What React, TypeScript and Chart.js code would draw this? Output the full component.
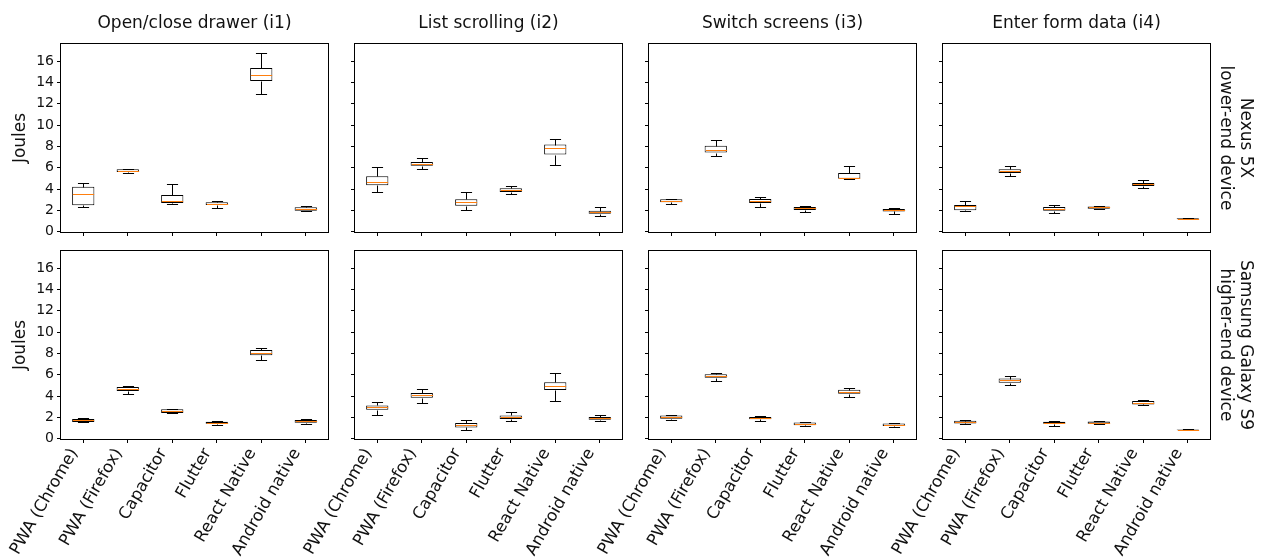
import React, { useEffect, useRef } from 'react';
import { Chart, registerables } from 'chart.js';

Chart.register(...registerables);

const categories = ['PWA (Chrome)', 'PWA (Firefox)', 'Capacitor', 'Flutter', 'React Native', 'Android native'];
const interactions = ['Open/close drawer (i1)', 'List scrolling (i2)', 'Switch screens (i3)', 'Enter form data (i4)'];
const deviceLabels = [
  ['Nexus 5X', 'lower-end device'],
  ['Samsung Galaxy S9', 'higher-end device'],
];
const yTicks = [0, 2, 4, 6, 8, 10, 12, 14, 16];
const yMin = -0.02;
const yMax = 17.6;

// each entry: [lower whisker, Q1, median, Q3, upper whisker] in Joules
const nexusI1 = [
  [2.29, 2.48, 3.51, 4.23, 4.61],
  [5.55, 5.61, 5.74, 5.86, 5.92],
  [2.63, 2.70, 2.92, 3.45, 4.45],
  [2.19, 2.51, 2.63, 2.76, 2.88],
  [12.95, 14.14, 14.73, 15.36, 16.8],
  [1.91, 1.97, 2.13, 2.29, 2.38],
];
const nexusI2 = [
  [3.70, 4.36, 4.67, 5.20, 6.05],
  [5.92, 6.18, 6.36, 6.55, 6.90],
  [2.07, 2.45, 2.79, 3.04, 3.76],
  [3.57, 3.73, 3.92, 4.08, 4.29],
  [6.27, 7.24, 7.81, 8.18, 8.71],
  [1.47, 1.69, 1.85, 1.97, 2.29],
];
const nexusI3 = [
  [2.60, 2.76, 2.88, 3.04, 3.10],
  [7.08, 7.43, 7.68, 8.06, 8.62],
  [2.29, 2.70, 2.92, 3.07, 3.26],
  [1.88, 2.04, 2.19, 2.32, 2.45],
  [4.92, 4.98, 5.08, 5.52, 6.14],
  [1.66, 1.91, 2.04, 2.13, 2.19],
];
const nexusI4 = [
  [1.94, 2.01, 2.41, 2.51, 2.85],
  [5.27, 5.52, 5.71, 5.86, 6.18],
  [1.72, 1.97, 2.16, 2.32, 2.54],
  [2.13, 2.16, 2.29, 2.38, 2.45],
  [4.11, 4.29, 4.45, 4.58, 4.83],
  [1.16, 1.18, 1.22, 1.27, 1.29],
];
const samsungI1 = [
  [1.53, 1.57, 1.72, 1.85, 1.91],
  [4.23, 4.48, 4.66, 4.85, 4.92],
  [2.38, 2.41, 2.60, 2.76, 2.82],
  [1.31, 1.41, 1.50, 1.60, 1.63],
  [7.42, 7.83, 8.08, 8.33, 8.55],
  [1.35, 1.50, 1.63, 1.75, 1.85],
];
const samsungI2 = [
  [2.25, 2.72, 2.94, 3.13, 3.44],
  [3.32, 3.85, 4.07, 4.29, 4.70],
  [0.78, 1.06, 1.28, 1.47, 1.72],
  [1.69, 1.85, 2.07, 2.19, 2.50],
  [3.57, 4.57, 4.98, 5.29, 6.20],
  [1.66, 1.78, 1.91, 2.04, 2.25],
];
const samsungI3 = [
  [1.78, 1.88, 2.07, 2.19, 2.25],
  [5.38, 5.73, 5.92, 6.04, 6.14],
  [1.69, 1.82, 1.94, 2.04, 2.10],
  [1.19, 1.28, 1.41, 1.53, 1.60],
  [3.94, 4.23, 4.41, 4.60, 4.79],
  [1.13, 1.19, 1.31, 1.44, 1.50],
];
const samsungI4 = [
  [1.38, 1.44, 1.57, 1.69, 1.75],
  [5.01, 5.26, 5.48, 5.64, 5.89],
  [1.22, 1.41, 1.50, 1.60, 1.66],
  [1.38, 1.41, 1.50, 1.63, 1.66],
  [3.16, 3.22, 3.38, 3.54, 3.66],
  [0.78, 0.81, 0.85, 0.88, 0.91],
];

const panels = [
  [nexusI1, nexusI2, nexusI3, nexusI4],
  [samsungI1, samsungI2, samsungI3, samsungI4],
];

const FONT = "'DejaVu Sans', sans-serif";
const TEXT = '#111';
const PLOT_LEFT = [61, 355, 649, 943];
const PLOT_W = 267;
const PLOT_TOP = [44, 251];
const PLOT_H = 188;

const framePlugin = {
  id: 'frame',
  afterDraw(chart: any) {
    const { ctx, chartArea: a } = chart;
    ctx.save();
    ctx.strokeStyle = '#000';
    ctx.lineWidth = 1;
    const l = Math.round(a.left) - 0.5;
    const t = Math.round(a.top) - 0.5;
    const r = Math.round(a.right) + 0.5;
    const b = Math.round(a.bottom) + 0.5;
    ctx.strokeRect(l, t, r - l, b - t);
    ctx.restore();
  },
};

function makeBoxPlugin(stats: number[][]) {
  return {
    id: 'boxWhiskers',
    afterDatasetsDraw(chart: any) {
      const { ctx } = chart;
      const ys = chart.scales.y;
      const meta = chart.getDatasetMeta(0);
      ctx.save();
      ctx.lineWidth = 1;
      stats.forEach((s, i) => {
        const el = meta.data[i];
        if (!el) return;
        const xc = Math.round(el.x) + 0.5;
        const hw = el.width / 2;
        const cw = el.width / 4;
        const py = (v: number) => Math.round(ys.getPixelForValue(v)) + 0.5;
        ctx.strokeStyle = '#000';
        ctx.beginPath();
        ctx.moveTo(xc, py(s[3]));
        ctx.lineTo(xc, py(s[4]));
        ctx.moveTo(xc, py(s[1]));
        ctx.lineTo(xc, py(s[0]));
        ctx.moveTo(xc - cw, py(s[4]));
        ctx.lineTo(xc + cw, py(s[4]));
        ctx.moveTo(xc - cw, py(s[0]));
        ctx.lineTo(xc + cw, py(s[0]));
        ctx.stroke();
        ctx.strokeStyle = '#ff7f0e';
        ctx.beginPath();
        ctx.moveTo(xc - hw + 0.5, py(s[2]));
        ctx.lineTo(xc + hw - 0.5, py(s[2]));
        ctx.stroke();
      });
      ctx.restore();
    },
  };
}

function Panel({ row, col, stats }: { row: number; col: number; stats: number[][] }) {
  const ref = useRef<HTMLCanvasElement>(null);
  const L = 61;
  const R = col === 3 ? 56 : 4;
  const T = row === 0 ? 44 : 6;
  const B = row === 0 ? 8 : 120;
  const width = L + PLOT_W + R;
  const height = T + PLOT_H + B;
  const left = PLOT_LEFT[col] - L;
  const top = PLOT_TOP[row] - T;

  useEffect(() => {
    if (!ref.current) return;
    const scales: any = {
      x: {
        type: 'category',
        offset: true,
        grid: {
          display: true,
          offset: false,
          drawOnChartArea: false,
          drawTicks: true,
          tickLength: 4,
          color: '#000',
          tickColor: '#000',
        },
        border: { display: false },
        ticks: {
          display: row === 1,
          autoSkip: false,
          minRotation: 60,
          maxRotation: 60,
          labelOffset: -9,
          padding: 2,
          color: TEXT,
          font: { family: FONT, size: 16.5 },
        },
        afterFit: (s: any) => {
          s.height = B;
          s.paddingLeft = 0;
          s.paddingRight = 0;
        },
      },
      y: {
        type: 'linear',
        min: yMin,
        max: yMax,
        afterBuildTicks: (s: any) => {
          s.ticks = yTicks.map((v) => ({ value: v }));
        },
        grid: {
          display: true,
          drawOnChartArea: false,
          drawTicks: true,
          tickLength: 4,
          color: '#000',
          tickColor: '#000',
        },
        border: { display: false },
        ticks: {
          display: col === 0,
          padding: 3,
          color: TEXT,
          font: { family: FONT, size: 14 },
        },
        title: {
          display: col === 0,
          text: 'Joules',
          color: TEXT,
          font: { family: FONT, size: 17 },
          padding: { top: 10, bottom: 0 },
        },
        afterFit: (s: any) => {
          s.width = L;
          s.paddingTop = 0;
          s.paddingBottom = 0;
        },
      },
    };
    if (col === 3) {
      scales.y2 = {
        type: 'linear',
        position: 'right',
        display: true,
        grid: { display: false, drawTicks: false },
        border: { display: false },
        ticks: { display: false },
        title: {
          display: true,
          text: deviceLabels[row],
          color: TEXT,
          font: { family: FONT, size: 17, lineHeight: 1.15 },
          padding: { top: 11, bottom: 0 },
        },
        afterFit: (s: any) => {
          s.width = R;
          s.paddingTop = 0;
          s.paddingBottom = 0;
        },
      };
    }
    const chart = new Chart(ref.current, {
      type: 'bar',
      data: {
        labels: categories,
        datasets: [
          {
            data: stats.map((s) => [s[1], s[3]]),
            backgroundColor: '#ffffff',
            borderColor: '#000000',
            borderWidth: 1,
            borderSkipped: false,
            barPercentage: 0.5,
            categoryPercentage: 1,
          } as any,
        ],
      },
      options: {
        responsive: false,
        maintainAspectRatio: false,
        animation: false,
        events: [],
        layout: {
          padding: { top: row === 0 ? 0 : T, right: col === 3 ? 0 : R, left: 0, bottom: 0 },
        },
        plugins: {
          legend: { display: false },
          tooltip: { enabled: false },
          title: {
            display: row === 0,
            text: interactions[col],
            fullSize: false,
            color: TEXT,
            font: { family: FONT, size: 17, weight: 'normal', lineHeight: 1.2 },
            padding: { top: 13.3, bottom: 10.3 },
          },
        },
        scales,
      } as any,
      plugins: [makeBoxPlugin(stats), framePlugin],
    });
    return () => chart.destroy();
  }, []);

  return (
    <canvas
      ref={ref}
      width={width}
      height={height}
      style={{ position: 'absolute', left, top, width, height }}
    />
  );
}

export default function App() {
  return (
    <div
      style={{
        position: 'absolute',
        left: 0,
        top: 0,
        width: 1266,
        height: 558,
        overflow: 'hidden',
        background: '#ffffff',
      }}
    >
      {panels.map((rowPanels, r) =>
        rowPanels.map((stats, c) => <Panel key={`${r}-${c}`} row={r} col={c} stats={stats} />)
      )}
    </div>
  );
}
